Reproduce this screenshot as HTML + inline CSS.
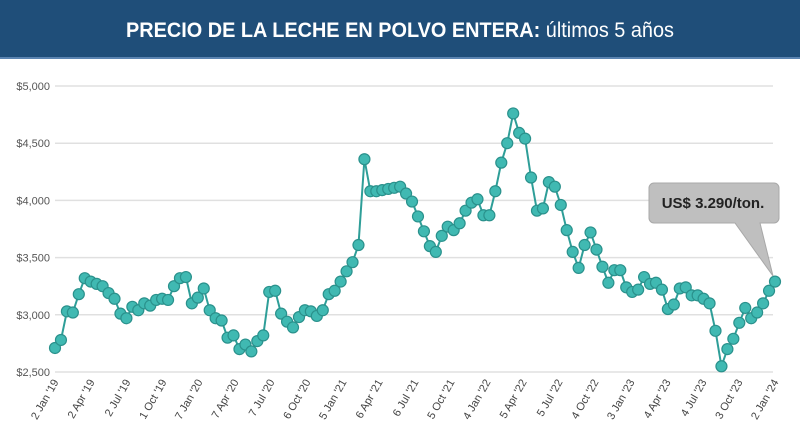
<!DOCTYPE html>
<html><head><meta charset="utf-8"><style>
body{margin:0;background:#fff;}
svg{display:block;font-family:"Liberation Sans",sans-serif;}
</style></head><body>
<svg id="chart" width="800" height="442" viewBox="0 0 800 442" xmlns="http://www.w3.org/2000/svg">
<rect x="0" y="0" width="800" height="57" fill="#1f4e79"/>
<rect x="0" y="57" width="800" height="2" fill="#5b84b1"/>
<text x="400" y="37" text-anchor="middle" fill="#fff" font-size="21" textLength="548" lengthAdjust="spacingAndGlyphs"><tspan font-weight="bold">PRECIO DE LA LECHE EN POLVO ENTERA:</tspan> últimos 5 años</text>
<g id="grid"></g><g id="ylabels"></g><g id="xlabels"></g><g id="series"></g>
<g>
<path d="M654,183 H774 a5,5 0 0 1 5,5 V218 a5,5 0 0 1 -5,5 H760 L773,276 L735,223 H654 a5,5 0 0 1 -5,-5 V188 a5,5 0 0 1 5,-5 Z" fill="#bfbfbf" stroke="#a8a8a8"/>
<text x="713" y="208" text-anchor="middle" font-size="15" font-weight="bold" fill="#222">US$ 3.290/ton.</text>
</g>
</svg>
<script>
const values=[2710,2780,3030,3020,3180,3320,3290,3270,3250,3190,3140,3010,2970,3070,3040,3100,3080,3130,3140,3130,3250,3320,3330,3100,3150,3230,3040,2970,2950,2800,2820,2700,2740,2680,2770,2820,3200,3210,3010,2940,2890,2980,3040,3030,2990,3040,3180,3210,3290,3380,3460,3610,4360,4080,4080,4090,4100,4110,4120,4060,3990,3860,3730,3600,3550,3690,3770,3740,3800,3910,3980,4010,3870,3870,4080,4330,4500,4760,4590,4540,4200,3910,3930,4160,4120,3960,3740,3550,3410,3610,3720,3570,3420,3280,3390,3390,3240,3200,3220,3330,3270,3280,3220,3050,3090,3230,3240,3170,3170,3140,3100,2860,2550,2700,2790,2930,3060,2970,3020,3100,3210,3290];
const yTicks=[2500,3000,3500,4000,4500,5000];
const yTickLabels=["$2,500","$3,000","$3,500","$4,000","$4,500","$5,000"];
const xLabels=["2 Jan '19","2 Apr '19","2 Jul '19","1 Oct '19","7 Jan '20","7 Apr '20","7 Jul '20","6 Oct '20","5 Jan '21","6 Apr '21","6 Jul '21","5 Oct '21","4 Jan '22","5 Apr '22","5 Jul '22","4 Oct '22","3 Jan '23","4 Apr '23","4 Jul '23","3 Oct '23","2 Jan '24"];
const NS="http://www.w3.org/2000/svg";
const x0=55,x1=775,yTop=86,yBot=372;
function y(v){return yBot-(v-2500)/2500*(yBot-yTop);}
function x(i){return x0+i*(x1-x0)/(values.length-1);}
function xl(i){return x0+i*(x1-x0)/(xLabels.length-1);}
function mk(t,a){const e=document.createElementNS(NS,t);for(const k in a)e.setAttribute(k,a[k]);return e;}
const grid=document.getElementById('grid'),yl=document.getElementById('ylabels'),xg=document.getElementById('xlabels'),sg=document.getElementById('series');
yTicks.forEach((v,i)=>{
 const l=mk('line',{x1:55,x2:773,y1:y(v),y2:y(v),stroke:'#e0e0e0','stroke-width':1.5});
 
 
 grid.appendChild(l);
 const t=mk('text',{x:50,y:y(v)+4,'text-anchor':'end','font-size':11,fill:'#555'});
 t.textContent=yTickLabels[i];
 
 
 yl.appendChild(t);
});
xLabels.forEach((s,i)=>{
 const px=xl(i)+4,py=382;
 const t=mk('text',{x:px,y:py,'text-anchor':'end','font-size':11,fill:'#444',transform:`rotate(-60 ${px} ${py})`});
 t.textContent=s;
 
 
 xg.appendChild(t);
});
const pl=mk('polyline',{points:values.map((v,i)=>x(i)+','+y(v)).join(' '),fill:'none',stroke:'#2e9e98','stroke-width':2});


sg.appendChild(pl);
values.forEach((v,i)=>{
 const c=mk('circle',{cx:x(i),cy:y(v),r:5.5,fill:'#40b9b2',stroke:'#2a918c','stroke-width':1.2});
 
 
 sg.appendChild(c);
});
</script>
</body></html>
